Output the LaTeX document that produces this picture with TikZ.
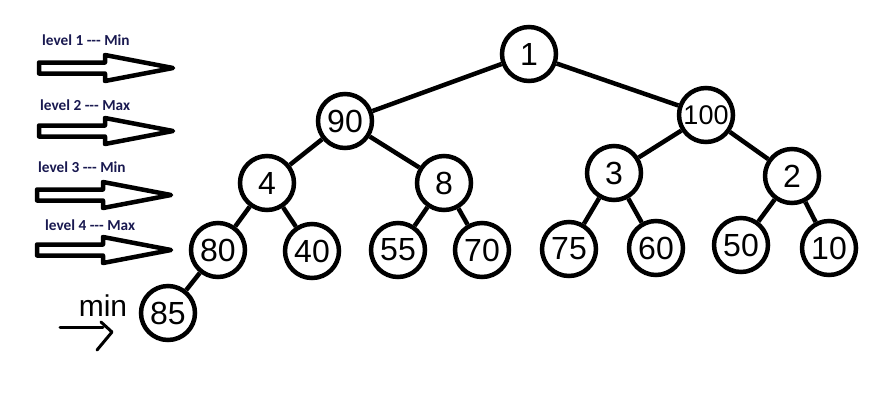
\documentclass[tikz,border=0pt]{standalone}
\usepackage{fontspec}
\setmainfont{Liberation Sans}
\newfontfamily\lblfont{Carlito}
\definecolor{navy}{RGB}{25,25,80}
\begin{document}
\begin{tikzpicture}[x=1pt,y=-1pt,
  nd/.style={circle,draw,line width=4.5pt,minimum size=54pt,inner sep=0pt,
             font=\fontsize{32}{32}\selectfont},
  ndsmall/.style={nd,font=\fontsize{27}{27}\selectfont},
  edge/.style={line width=4.5pt},
  lbl/.style={font=\lblfont\bfseries\fontsize{15.3}{15.3}\selectfont,text=navy,anchor=west,inner sep=0pt},
  minlbl/.style={font=\fontsize{30}{30}\selectfont,inner sep=0pt},
  sketch/.style={line width=3pt,line cap=round,line join=round},
  blockarrow/.pic={\draw[line width=4.5pt,line join=round]
     (0,-5.5) -- (66,-5.5) -- (66,-13) -- (134,0) -- (66,13) -- (66,5.5) -- (0,5.5) -- cycle;}]
\useasboundingbox (0,0) rectangle (882,400);

% level labels and block arrows
\node[lbl] (l1) at (42,40) {level 1 --- Min};
\node[lbl] (l2) at (40,105) {level 2 --- Max};
\node[lbl] (l3) at (38,167) {level 3 --- Min};
\node[lbl] (l4) at (45,225) {level 4 --- Max};
\pic at (39,68) {blockarrow};
\pic at (39,131) {blockarrow};
\pic at (37,195) {blockarrow};
\pic at (37,250) {blockarrow};

% tree nodes
\node[nd] (n1) at (529,54) {1};
\node[nd] (n90) at (345,121) {90};
\node[ndsmall] (n100) at (706,115) {100};
\node[nd] (n4) at (267,183) {4};
\node[nd] (n8) at (444,183) {8};
\node[nd] (n3) at (614,173) {3};
\node[nd] (n2) at (792,176) {2};
\node[nd] (n80) at (218,250) {80};
\node[nd] (n40) at (312,251) {40};
\node[nd] (n55) at (398,250) {55};
\node[nd] (n70) at (482,250) {70};
\node[nd] (n75) at (569,249) {75};
\node[nd] (n60) at (656,248) {60};
\node[nd] (n50) at (741,245) {50};
\node[nd] (n10) at (829,248) {10};
\node[nd] (n85) at (168,313) {85};

% edges
\draw[edge] (n1) -- (n90);
\draw[edge] (n1) -- (n100);
\draw[edge] (n90) -- (n4);
\draw[edge] (n90) -- (n8);
\draw[edge] (n100) -- (n3);
\draw[edge] (n100) -- (n2);
\draw[edge] (n4) -- (n80);
\draw[edge] (n4) -- (n40);
\draw[edge] (n8) -- (n55);
\draw[edge] (n8) -- (n70);
\draw[edge] (n3) -- (n75);
\draw[edge] (n3) -- (n60);
\draw[edge] (n2) -- (n50);
\draw[edge] (n2) -- (n10);
\draw[edge] (n80) -- (n85);

% "min" pointer
\node[minlbl] (minl) at (103,306) {min};
\coordinate (mtail) at (60,327);
\coordinate (mhead) at (103,327);
\draw[sketch] (mtail) -- (mhead);
\draw[sketch] (101,322) -- (112,332) -- (97,350);
\end{tikzpicture}
\end{document}
